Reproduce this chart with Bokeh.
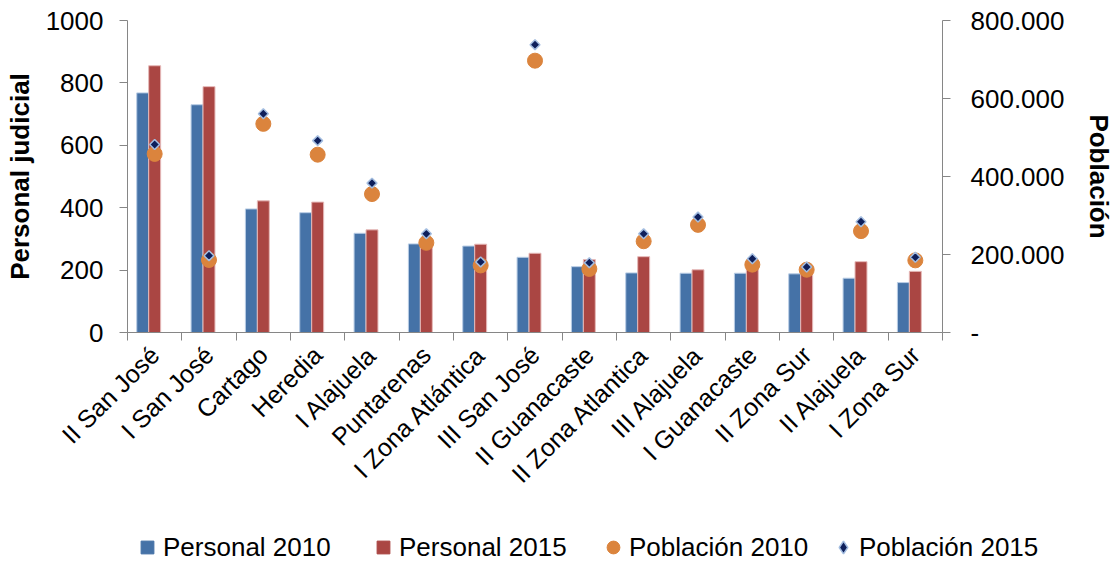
import math
from bokeh.plotting import figure
from bokeh.layouts import column, row
from bokeh.models import (Range1d, LinearAxis, FixedTicker, Legend,
                          LegendItem, ColumnDataSource)
from bokeh.transform import dodge
from bokeh.embed import file_html
from bokeh.resources import INLINE

# ---------------- data ----------------
regions = ["II San José", "I San José", "Cartago", "Heredia", "I Alajuela",
           "Puntarenas", "I Zona Atlántica", "III San José", "II Guanacaste",
           "II Zona Atlantica", "III Alajuela", "I Guanacaste", "II Zona Sur",
           "II Alajuela", "I Zona Sur"]
personal_2010 = [768, 730, 396, 384, 318, 284, 277, 241, 211, 191, 190, 190, 188, 174, 160]
personal_2015 = [855, 788, 422, 418, 329, 288, 283, 254, 234, 243, 201, 205, 200, 227, 196]
poblacion_2010 = [458000, 186000, 535000, 456000, 355000, 230000, 172000, 697000,
                  163000, 234000, 276000, 174000, 161000, 260000, 185000]
poblacion_2015 = [482000, 197000, 561000, 492000, 383000, 253000, 181000, 738000,
                  179000, 253000, 296000, 189000, 168000, 284000, 193000]
left_ticks = [0, 200, 400, 600, 800, 1000]
right_ticks = [0, 200000, 400000, 600000, 800000]
right_tick_labels = ["-", "200.000", "400.000", "600.000", "800.000"]

FONT = "Liberation Sans"
GRAY = "#868686"
BLUE = "#4572A7"
RED = "#AA4643"
ORANGE = "#DB843D"
NAVY = "#0E1F5B"
LIGHTBLUE = "#A3BDE0"

n = len(regions)
slot_centers = [i + 0.5 for i in range(n)]      # category slots on a 0..n scale
slot_edges = list(range(n + 1))

src = ColumnDataSource(dict(x=slot_centers, region=regions, p10=personal_2010,
                            p15=personal_2015, pob10=poblacion_2010,
                            pob15=poblacion_2015))

W = 1117
p = figure(x_range=Range1d(0, n), y_range=Range1d(0, 1000),
           width=W, height=531, output_backend="svg", toolbar_location=None,
           min_border_left=127, min_border_right=172, min_border_top=20,
           min_border_bottom=199)
p.extra_y_ranges = {"pop": Range1d(0, 800000)}
p.outline_line_color = None
p.xgrid.visible = False
p.ygrid.visible = False

p.vbar(x=dodge("x", -0.22), top="p10", width=0.22,
       source=src, fill_color=BLUE, line_color="#B9CDE5", line_width=1)
p.vbar(x=dodge("x", 0.0), top="p15", width=0.22,
       source=src, fill_color=RED, line_color="#E6B9B8", line_width=1)
p.scatter(x="x", y="pob10", y_range_name="pop", marker="circle", size=15,
          fill_color=ORANGE, line_color=ORANGE, source=src)
p.scatter(x="x", y="pob15", y_range_name="pop", marker="square",
          angle=math.pi / 4, size=7, fill_color=NAVY, line_color=LIGHTBLUE,
          line_width=1.5, source=src)

# left axis
ya = p.yaxis[0]
ya.ticker = FixedTicker(ticks=left_ticks)
ya.axis_label = "Personal judicial"
ya.axis_label_text_font = FONT
ya.axis_label_text_font_size = "26px"
ya.axis_label_text_font_style = "bold"
ya.axis_label_text_color = "black"
ya.axis_label_standoff = 8
ya.major_label_text_font = FONT
ya.major_label_text_font_size = "26px"
ya.major_label_text_color = "black"
ya.major_label_standoff = 16
ya.major_tick_in = 0
ya.major_tick_out = 8
ya.minor_tick_line_color = None
ya.axis_line_color = GRAY
ya.major_tick_line_color = GRAY

# right axis
ra = LinearAxis(y_range_name="pop", ticker=FixedTicker(ticks=right_ticks),
                major_label_overrides=dict(zip(right_ticks, right_tick_labels)))
ra.axis_label = "Población"
ra.axis_label_text_font = FONT
ra.axis_label_text_font_size = "26px"
ra.axis_label_text_font_style = "bold"
ra.axis_label_text_color = "black"
ra.axis_label_standoff = 17
ra.major_label_text_font = FONT
ra.major_label_text_font_size = "26px"
ra.major_label_text_color = "black"
ra.major_label_standoff = 20
ra.major_tick_in = 0
ra.major_tick_out = 8
ra.minor_tick_line_color = None
ra.axis_line_color = GRAY
ra.major_tick_line_color = GRAY
p.add_layout(ra, "right")

# bottom: category labels at slot centers + boundary ticks
xa = p.xaxis[0]
xa.ticker = FixedTicker(ticks=slot_centers)
xa.major_label_overrides = dict(zip(slot_centers, regions))
xa.major_label_orientation = math.pi / 4
xa.major_tick_line_color = None
xa.minor_tick_line_color = None
xa.axis_line_color = None
xa.major_label_text_font = FONT
xa.major_label_text_font_size = "25px"
xa.major_label_text_color = "black"
xa.major_label_standoff = 4

ta = LinearAxis(ticker=FixedTicker(ticks=slot_edges),
                major_label_overrides={e: "" for e in slot_edges},
                major_label_text_font_size="8px",
                major_tick_in=0, major_tick_out=8,
                axis_line_color=GRAY, major_tick_line_color=GRAY,
                minor_tick_line_color=None, major_label_standoff=0)
p.add_layout(ta, "below")
p.below = [ta, xa]

# ---------------- legend strip ----------------
lg = figure(width=W, height=32, x_range=Range1d(0, 1), y_range=Range1d(0, 1),
            output_backend="svg", toolbar_location=None, min_border=0)
lg.axis.visible = False
lg.grid.visible = False
lg.outline_line_color = None

k1 = lg.scatter(x="x", y="p10", marker="square", fill_color=BLUE, line_color=BLUE,
                source=src, visible=False)
k2 = lg.scatter(x="x", y="p15", marker="square", fill_color=RED, line_color=RED,
                source=src, visible=False)
k3 = lg.scatter(x="x", y="pob10", marker="circle", fill_color=ORANGE,
                line_color=ORANGE, source=src, visible=False)
k4 = lg.scatter(x="x", y="pob15", marker="diamond", fill_color=NAVY,
                line_color=LIGHTBLUE, line_width=1.5, source=src, visible=False)


def add_item(label, renderer, x_px):
    leg = Legend(items=[LegendItem(label=label, renderers=[renderer])],
                 location=(x_px, 0), orientation="horizontal",
                 glyph_width=32, glyph_height=32, label_standoff=0,
                 label_height=32, padding=0, margin=0, border_line_color=None,
                 background_fill_alpha=0, label_text_font=FONT,
                 label_text_font_size="26px", label_text_color="black")
    lg.add_layout(leg, "center")


add_item("Personal 2010", k1, 131)
add_item("Personal 2015", k2, 367)
add_item("Población 2010", k3, 597)
add_item("Población 2015", k4, 827)

layout = column(p, row(lg), spacing=0)
open("out.html", "w").write(file_html(layout, INLINE))
